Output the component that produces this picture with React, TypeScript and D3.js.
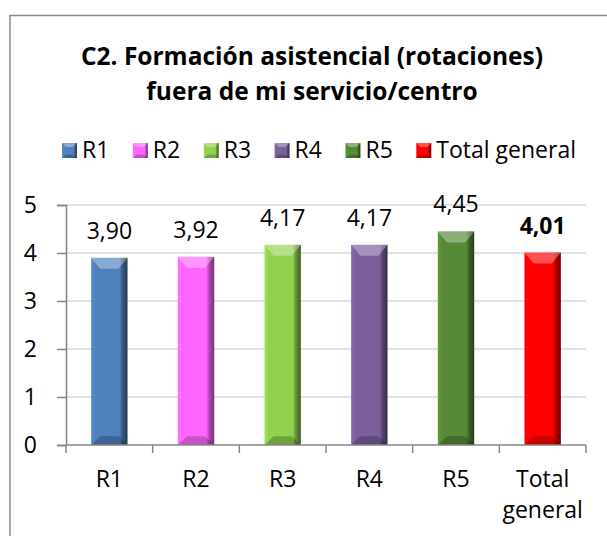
import React, { useRef, useEffect } from "react";
import * as d3 from "d3";

// chart data
const categories = ["R1", "R2", "R3", "R4", "R5", "Total general"];
const values = [3.9, 3.92, 4.17, 4.17, 4.45, 4.01];
const colors = ["#4f81bd", "#ff66ff", "#92d050", "#7b5f9d", "#578a37", "#ff0000"];
const titleLines = ["C2. Formación asistencial (rotaciones)", "fuera de mi servicio/centro"];
const yTicks = [0, 1, 2, 3, 4, 5];

const FONT = "'Open Sans', Lato, sans-serif";
const FS = 23;

const App = () => {
  const svgRef = useRef<SVGSVGElement>(null);

  useEffect(() => {
    const svg = d3.select(svgRef.current);
    svg.selectAll("*").remove();

    const x = d3.scaleBand<string>().domain(categories).range([66, 586]);
    const y = d3.scaleLinear().domain([0, 5]).range([445, 205]);

    // outer border (cut off on the right and bottom)
    svg.append("rect")
      .attr("x", 10).attr("y", 15.5)
      .attr("width", 640).attr("height", 560)
      .attr("fill", "#fff").attr("stroke", "#8a8a8a").attr("stroke-width", 1.5);

    // title
    svg.append("g").selectAll("text")
      .data(titleLines)
      .join("text")
      .attr("x", 312)
      .attr("y", (d, i) => 65 + i * 34.5)
      .attr("text-anchor", "middle")
      .attr("font-family", FONT)
      .attr("font-weight", "bold")
      .attr("font-size", 24.5)
      .text(d => d);

    // bevel gradients
    const defs = svg.append("defs");
    colors.forEach((c, i) => {
      const g = defs.append("linearGradient").attr("id", "side" + i);
      const base = d3.color(c)!;
      g.append("stop").attr("offset", "0%").attr("stop-color", base.brighter(0.3).toString());
      g.append("stop").attr("offset", "12%").attr("stop-color", c);
      g.append("stop").attr("offset", "78%").attr("stop-color", c);
      g.append("stop").attr("offset", "86%").attr("stop-color", base.darker(1).toString());
      g.append("stop").attr("offset", "100%").attr("stop-color", base.darker(2.2).toString());
    });

    const bevelBar = (g, x0, w, top, bottom, i, b, bt) => {
      const x1 = x0 + w;
      g.append("rect")
        .attr("x", x0).attr("y", top)
        .attr("width", w).attr("height", bottom - top)
        .attr("fill", `url(#side${i})`);
      // top bevel
      g.append("path")
        .attr("d", `M${x0},${top}L${x1},${top}L${x1 - b * 1.3},${top + bt}L${x0 + b * 1.3},${top + bt}Z`)
        .attr("fill", "#fff").attr("opacity", 0.32);
      // bottom bevel
      g.append("path")
        .attr("d", `M${x0},${bottom}L${x1},${bottom}L${x1 - b * 1.3},${bottom - bt * 0.8}L${x0 + b * 1.3},${bottom - bt * 0.8}Z`)
        .attr("fill", "#000").attr("opacity", 0.22);
    };

    // gridlines
    svg.append("g").selectAll("line")
      .data(yTicks.filter(t => t > 0))
      .join("line")
      .attr("x1", 66).attr("x2", 586)
      .attr("y1", d => y(d)).attr("y2", d => y(d))
      .attr("stroke", "#d9d9d9").attr("stroke-width", 1.5);

    // bars
    const barW = x.bandwidth() * 0.42;
    const bars = svg.append("g");
    categories.forEach((c, i) => {
      const x0 = x(c)! + (x.bandwidth() - barW) / 2;
      bevelBar(bars.append("g"), x0, barW, y(values[i]), y(0), i, 7, 11);
    });

    // data labels
    const fmt = d3.format(".2f");
    svg.append("g").selectAll("text")
      .data(values)
      .join("text")
      .attr("x", (d, i) => x(categories[i])! + x.bandwidth() / 2)
      .attr("y", d => y(d) - 19)
      .attr("text-anchor", "middle")
      .attr("font-family", FONT)
      .attr("font-size", FS)
      .attr("font-weight", (d, i) => (i === values.length - 1 ? "bold" : "normal"))
      .text(d => fmt(d).replace(".", ","));

    // y axis
    const yAxis = svg.append("g")
      .attr("transform", "translate(66,0)")
      .call(d3.axisLeft(y).tickValues(yTicks).tickSize(9).tickPadding(20).tickFormat(d3.format("d")));
    yAxis.select(".domain").attr("stroke", "#868686").attr("stroke-width", 1.5);
    yAxis.selectAll(".tick line").attr("stroke", "#868686").attr("stroke-width", 1.5);
    yAxis.selectAll(".tick text")
      .attr("font-family", FONT).attr("font-size", FS).attr("fill", "#000");

    // x axis
    const bounds = [...categories.map(c => x(c)!), 586];
    const xg = svg.append("g");
    xg.append("line")
      .attr("x1", 66).attr("x2", 586).attr("y1", 445).attr("y2", 445)
      .attr("stroke", "#868686").attr("stroke-width", 1.5);
    xg.selectAll(".xt")
      .data(bounds)
      .join("line")
      .attr("x1", d => d).attr("x2", d => d)
      .attr("y1", 445).attr("y2", 453)
      .attr("stroke", "#868686").attr("stroke-width", 1.5);
    xg.selectAll(".xl")
      .data(categories)
      .join("text")
      .attr("x", d => x(d)! + x.bandwidth() / 2)
      .attr("y", 487)
      .attr("text-anchor", "middle")
      .attr("font-family", FONT)
      .attr("font-size", FS)
      .each(function (d) {
        const parts = d.split(" ");
        d3.select(this).selectAll("tspan")
          .data(parts)
          .join("tspan")
          .attr("x", x(d)! + x.bandwidth() / 2)
          .attr("dy", (p, k) => (k === 0 ? 0 : 31))
          .text(p => p);
      });

    // legend
    const legend = svg.append("g").attr("transform", "translate(62,0)");
    let lx = 0;
    categories.forEach((c, i) => {
      const item = legend.append("g").attr("transform", `translate(${lx},0)`);
      bevelBar(item, 0, 15, 143, 158, i, 3, 4);
      const t = item.append("text")
        .attr("x", 20).attr("y", 158)
        .attr("font-family", FONT).attr("font-size", FS)
        .text(c);
      lx += 20 + (t.node() as SVGTextElement).getComputedTextLength() + 23.5;
    });
  }, []);

  return (
    <div>
      <style>{`body { margin: 0; }`}</style>
      <svg ref={svgRef} width={607} height={536} style={{ display: "block", background: "#fff" }} />
    </div>
  );
};

export default App;
